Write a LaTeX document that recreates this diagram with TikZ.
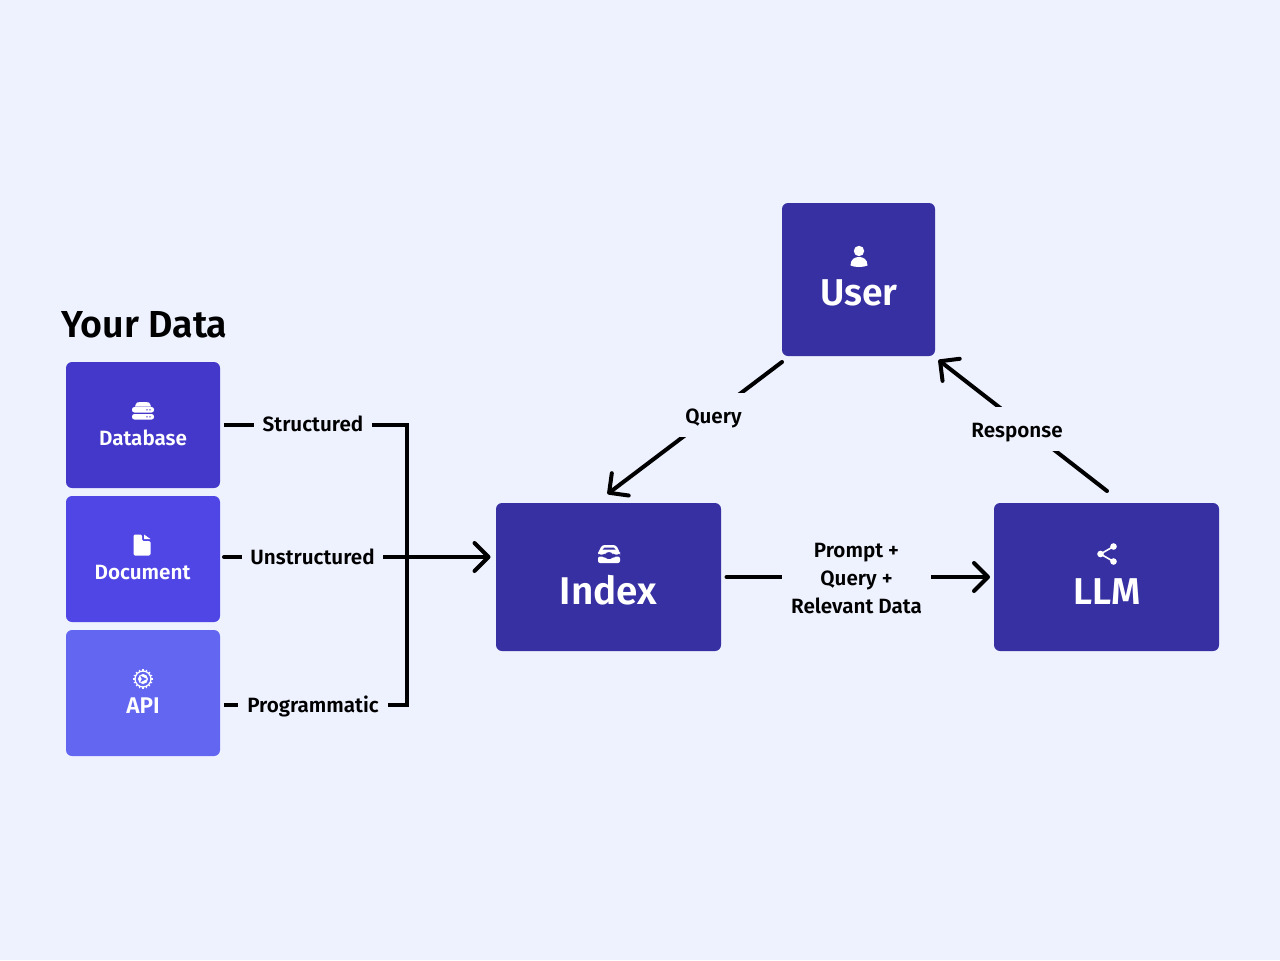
\documentclass[tikz,border=0pt]{standalone}
\usepackage{fontspec}
\setmainfont{Fira Sans}[BoldFont={Fira Sans SemiBold}]
\usetikzlibrary{arrows.meta,calc}
\definecolor{bgc}{HTML}{EEF2FF}
\definecolor{dbc}{HTML}{4338CA}
\definecolor{docc}{HTML}{4F46E5}
\definecolor{apic}{HTML}{6366F1}
\definecolor{mainc}{HTML}{3730A3}
\tikzset{
  pane/.style={rectangle,rounded corners=4.5pt,draw=none,inner sep=0pt},
  srcbox/.style={pane,minimum width=115.5pt,minimum height=94.5pt},
  srctext/.style={anchor=base,text=white,inner sep=0pt,font=\bfseries\fontsize{15.5}{18}\selectfont},
  maintext/.style={anchor=base,text=white,inner sep=0pt,font=\bfseries\fontsize{28}{32}\selectfont},
  wire/.style={line width=3pt,draw=black,line cap=round},
  wirebutt/.style={line width=3pt,draw=black},
  arrowline/.style={wire,-{Straight Barb[length=10.5pt,width=21pt,round,line width=3pt]}},
  cut/.style={anchor=center,fill=bgc,inner sep=0pt,text=black,align=center,font=\bfseries\fontsize{15.5}{21}\selectfont},
  icon/.style={fill=white,draw=none}
}
\begin{document}
\begin{tikzpicture}[x=0.75pt,y=-0.75pt]
\useasboundingbox (0,0) rectangle (1280,960);
\fill[bgc] (0,0) rectangle (1280,960);

% boxes
\node[srcbox,fill=dbc]  (db)  at (143,425) {};
\node[srcbox,fill=docc] (doc) at (143,559) {};
\node[srcbox,fill=apic] (api) at (143,693) {};
\node[pane,fill=mainc,minimum width=114.75pt,minimum height=114.75pt] (user) at (858.5,279.5) {};
\node[pane,fill=mainc,minimum width=168.75pt,minimum height=111pt] (index) at (608.5,577) {};
\node[pane,fill=mainc,minimum width=168.75pt,minimum height=111pt] (llm) at (1106.5,577) {};

% titles
\node[anchor=base west,inner sep=0pt,text=black,font=\bfseries\fontsize{28.2}{32}\selectfont] (title) at (61,337) {Your Data};
\node[srctext] (dbt) at (143,445) {Database};
\node[srctext] (doct) at (142.5,579) {Document};
\node[srctext,font=\bfseries\fontsize{17}{18}\selectfont] (apit) at (143,713) {API};
\node[maintext] (usert) at (859,305.5) {User};
\node[maintext,font=\bfseries\fontsize{29}{32}\selectfont] (indext) at (608.5,604) {Index};
\node[maintext] (llmt) at (1107,604) {LLM};

% connector anchors
\coordinate (dbo) at (224,425);
\coordinate (doco) at (224,557);
\coordinate (apio) at (224,705);
\coordinate (bust) at (407,425);
\coordinate (busb) at (407,705);
\coordinate (busm) at (407,557);
\coordinate (idxin) at (490.5,557);
\coordinate (idxout) at (726.5,577);
\coordinate (llmin) at (990,577);
\coordinate (qs) at (782,362);
\coordinate (qe) at (607.5,494);
\coordinate (rs) at (1107,491);
\coordinate (re) at (938.5,360);

% connectors
\draw[wirebutt,line join=miter] (dbo) -- (bust) -- (busb) -- (apio);
\draw[arrowline] (doco) -- (idxin);
\draw[arrowline] (idxout) -- (llmin);
\draw[arrowline] (qs) -- (qe);
\draw[arrowline] (rs) -- (re);

% connector labels
\node[cut,minimum width=88.5pt,text height=13.5pt,text depth=4.5pt] (l1) at (313,425) {Structured};
\node[cut,minimum width=105.75pt,text height=14.25pt,text depth=3.75pt] (l2) at (312.5,557) {Unstructured};
\node[cut,minimum width=112.5pt,text height=15.75pt,text depth=4.5pt] (l3) at (313,705) {Programmatic};
\node[cut,minimum width=55.5pt,text height=22.5pt,text depth=10.5pt] (lq) at (713.5,415) {Query};
\node[cut,minimum width=81.75pt,text height=22.5pt,text depth=10.5pt] (lr) at (1017,429) {Response};
\node[cut,minimum width=111.75pt] (lp) at (856.5,578.5) {Prompt +\\Query +\\Relevant Data};

% database icon
\begin{scope}[shift={(143,411)}]
  \fill[icon] (-8,-4.5) .. controls (-7,-9) and (-5,-9) .. (-3,-9) -- (3,-9) .. controls (5,-9) and (7,-9) .. (8,-4.5) -- cycle;
  \fill[icon,rounded corners=1.8pt] (-11,-4) rectangle (11,1.5);
  \fill[icon,rounded corners=1.8pt] (-11,3) rectangle (11,8.5);
  \fill[dbc] (4,-1.2) circle (0.8) (7,-1.2) circle (0.8) (4,5.8) circle (0.8) (7,5.8) circle (0.8);
\end{scope}

% document icon
\begin{scope}[shift={(142,545)}]
  \fill[icon,rounded corners=1pt] (-8.5,-10.5) -- (0,-10.5) -- (0,-4) -- (8.5,-4) -- (8.5,10.5) -- (-8.5,10.5) -- cycle;
  \fill[icon] (2,-10.5) -- (8.5,-6) -- (2,-6) -- cycle;
\end{scope}

% api icon
\begin{scope}[shift={(143,679)}]
  \foreach \a in {0,22.5,...,337.5}
    \draw[white,line width=0.8pt] (\a:7.5) -- (\a:9.8);
  \draw[white,line width=1pt,fill=apic] (0,0) circle (8);
  \fill[white] (0,0) circle (5);
  \fill[apic] (-2.8,-3.4) -- (3.8,0) -- (-2.8,3.4) -- (-1.2,0) -- cycle;
\end{scope}

% user icon
\begin{scope}[shift={(859,256)}]
  \fill[icon] (0,-5) circle (5.2);
  \fill[icon] (-8.5,9.5) .. controls (-8.5,3) and (-4,1) .. (0,1) .. controls (4,1) and (8.5,3) .. (8.5,9.5) .. controls (4,11.5) and (-4,11.5) .. (-8.5,9.5) -- cycle;
\end{scope}

% inbox icon
\begin{scope}[shift={(609,554)}]
  \fill[icon,rounded corners=2pt] (-11,-1) -- (-7,-9) -- (7,-9) -- (11,-1) -- (11,0.5) -- (4,0.5) -- (3,-2) -- (-3,-2) -- (-4,0.5) -- (-11,0.5) -- cycle;
  \fill[mainc] (-6.5,-4.5) -- (-4.5,-6.5) -- (4.5,-6.5) -- (6.5,-4.5) -- (3,-4.5) -- (-3,-4.5) -- cycle;
  \fill[icon,rounded corners=1.5pt] (-11,2.5) -- (-5,2.5) -- (-3.5,5) -- (3.5,5) -- (5,2.5) -- (11,2.5) -- (11,9) -- (-11,9) -- cycle;
\end{scope}

% share icon
\begin{scope}[shift={(1107,554)}]
  \draw[white,line width=1.2pt] (6.5,-7.5) -- (-6.5,0) -- (6.5,7.5);
  \fill[icon] (6.5,-7.5) circle (3.3) (-6.5,0) circle (3.3) (6.5,7.5) circle (3.3);
\end{scope}
\end{tikzpicture}
\end{document}
